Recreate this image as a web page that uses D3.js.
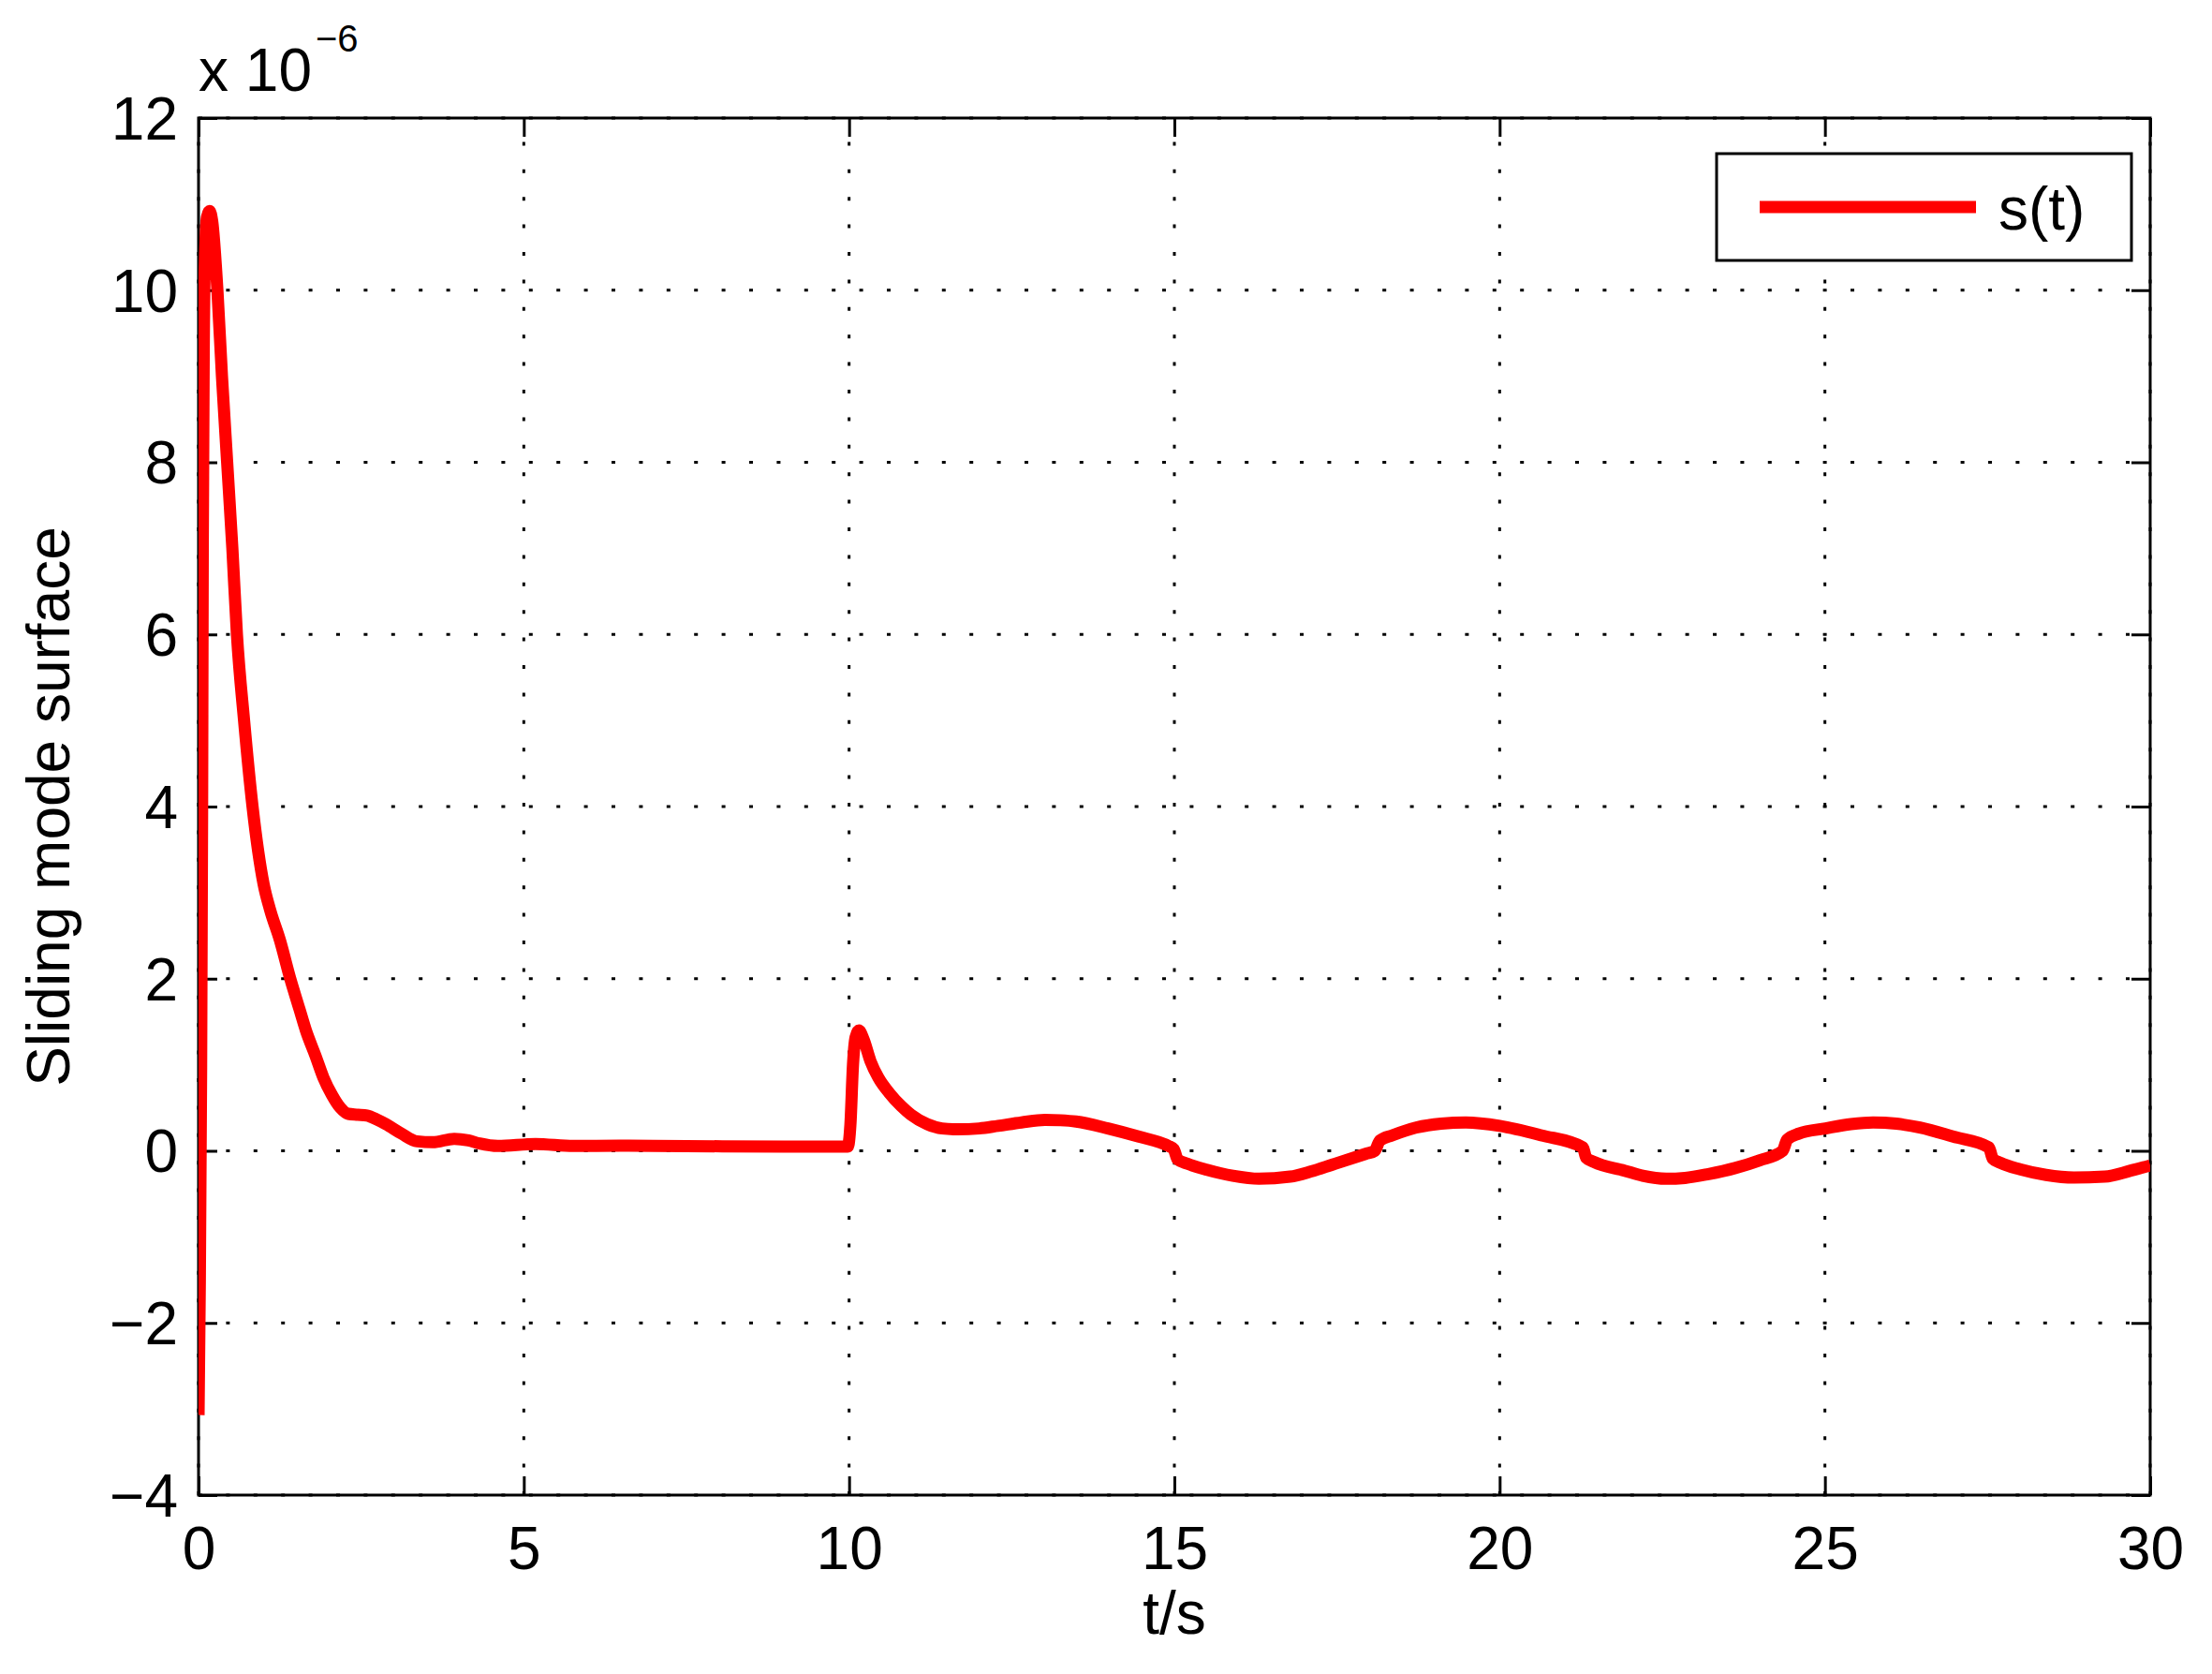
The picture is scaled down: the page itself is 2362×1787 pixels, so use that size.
<!DOCTYPE html>
<html>
<head>
<meta charset="utf-8">
<script src="https://cdn.jsdelivr.net/npm/d3@7"></script>
<style>
  html, body { margin: 0; padding: 0; background: #ffffff; }
  svg { display: block; }
  text { font-family: "Liberation Sans", Arial, sans-serif; fill: #000; }
</style>
</head>
<body>
<script>
// ---- data (s in units of 1e-6) ----
const tValues = [
  0.0, 0.02, 0.04, 0.055, 0.065, 0.08, 0.10, 0.13, 0.17, 0.21, 0.29, 0.36, 0.44, 0.52, 0.59, 0.70, 0.83,
  1.00, 1.10, 1.25, 1.41, 1.55, 1.65, 1.80, 1.92, 2.05, 2.18, 2.30, 2.45, 2.59, 2.75, 2.88, 3.12, 3.36, 3.60,
  3.93, 4.15, 4.32, 4.60, 5.18, 5.76, 6.47, 7.50, 9.00, 9.98,
  10.02, 10.06, 10.10, 10.15, 10.22, 10.33, 10.45, 10.62, 10.80, 10.95, 11.20, 11.43, 11.67, 12.00, 12.29,
  12.65, 13.01, 13.25, 13.49, 13.98, 14.45, 14.91, 14.99, 15.05, 15.20, 15.50, 15.90, 16.30, 16.78, 17.10,
  17.43, 17.94, 18.08, 18.16, 18.35, 18.71, 19.10, 19.48, 20.00, 20.64, 21.28, 21.33, 21.45, 21.92, 22.20,
  22.56, 22.85, 23.21, 23.62, 24.00, 24.35, 24.42, 24.60, 25.01, 25.40, 25.74, 26.10, 26.46, 26.97, 27.52,
  27.58, 27.70, 28.00, 28.40, 28.83, 29.30, 29.70, 30.00
];
const sValues = [
  -3.07, -1.5, 1.0, 4.0, 7.0, 9.3, 10.4, 10.85, 10.92, 10.8, 10.0, 9.0, 8.0, 7.0, 6.0, 5.0, 4.0,
  3.1, 2.8, 2.45, 2.0, 1.65, 1.40, 1.10, 0.85, 0.65, 0.50, 0.43, 0.42, 0.41, 0.36, 0.31, 0.20, 0.11, 0.10,
  0.14, 0.12, 0.085, 0.056, 0.08, 0.056, 0.06, 0.055, 0.05, 0.05,
  0.30, 1.0, 1.32, 1.40, 1.30, 1.04, 0.85, 0.67, 0.52, 0.42, 0.31, 0.26, 0.25, 0.26, 0.29,
  0.33, 0.36, 0.355, 0.34, 0.26, 0.165, 0.056, 0.02, -0.10, -0.15, -0.22, -0.29, -0.325, -0.30, -0.24,
  -0.16, -0.035, 0.0, 0.12, 0.18, 0.27, 0.315, 0.33, 0.29, 0.18, 0.04, -0.08, -0.13, -0.23, -0.29,
  -0.325, -0.315, -0.27, -0.20, -0.11, 0.0, 0.13, 0.20, 0.26, 0.31, 0.33, 0.315, 0.27, 0.165, 0.04,
  -0.09, -0.14, -0.215, -0.28, -0.31, -0.30, -0.23, -0.17
];
const xTicks = [0, 5, 10, 15, 20, 25, 30];
const yTicks = [-4, -2, 0, 2, 4, 6, 8, 10, 12];
const xDomain = [0, 30];
const yDomain = [-4, 12];
const seriesName = "s(t)";
const xLabel = "t/s";
const yLabel = "Sliding mode surface";
const exponentText = "x 10";
const exponentSup = "\u22126";

// ---- layout ----
const W = 2362, H = 1787;
const L = 212, R = 2296, T = 126, B = 1596;

const svg = d3.select("body").append("svg").attr("width", W).attr("height", H);
svg.append("rect").attr("width", W).attr("height", H).attr("fill", "#fff");

const x = d3.scaleLinear().domain(xDomain).range([L, R]);
const y = d3.scaleLinear().domain(yDomain).range([B, T]);

const fmt = v => (v < 0 ? "\u2212" + Math.abs(v) : String(v));

// grid (dotted)
const grid = svg.append("g").attr("stroke", "#000").attr("stroke-width", 3)
  .attr("stroke-dasharray", "4 25.4").attr("fill", "none");
yTicks.forEach(v => {
  grid.append("line").attr("x1", L).attr("x2", R).attr("y1", y(v)).attr("y2", y(v));
});
xTicks.forEach(v => {
  grid.append("line").attr("x1", x(v)).attr("x2", x(v)).attr("y1", B).attr("y2", T);
});

// axes via d3 axis generators (ticks inward)
const axStyle = g => {
  g.select(".domain").remove();
  g.selectAll(".tick line").attr("stroke", "#000").attr("stroke-width", 3);
};
svg.append("g").attr("transform", `translate(0,${B})`)
  .call(d3.axisBottom(x).tickValues(xTicks).tickSizeInner(-20).tickSizeOuter(0).tickFormat(fmt).tickPadding(32))
  .call(axStyle)
  .selectAll("text").attr("font-size", 64).attr("font-family", "Liberation Sans, Arial, sans-serif")
  .attr("dy", null).attr("y", 79).attr("dominant-baseline", "alphabetic");
svg.append("g").attr("transform", `translate(0,${T})`)
  .call(d3.axisTop(x).tickValues(xTicks).tickSizeInner(-20).tickSizeOuter(0).tickFormat(""))
  .call(axStyle);
svg.append("g").attr("transform", `translate(${L},0)`)
  .call(d3.axisLeft(y).tickValues(yTicks).tickSizeInner(-20).tickSizeOuter(0).tickFormat(fmt))
  .call(axStyle)
  .selectAll("text").attr("font-size", 64).attr("font-family", "Liberation Sans, Arial, sans-serif")
  .attr("x", -22).attr("dy", "0.35em");
svg.append("g").attr("transform", `translate(${R},0)`)
  .call(d3.axisRight(y).tickValues(yTicks).tickSizeInner(-20).tickSizeOuter(0).tickFormat(""))
  .call(axStyle);

// frame
svg.append("rect").attr("x", L).attr("y", T).attr("width", R - L).attr("height", B - T)
  .attr("fill", "none").attr("stroke", "#000").attr("stroke-width", 3);

// clip
svg.append("clipPath").attr("id", "plotclip").append("rect")
  .attr("x", L).attr("y", T).attr("width", R - L).attr("height", B - T);

// series
const data = tValues.map((t, i) => ({ t, s: sValues[i] }));
const line = d3.line().x(d => x(d.t)).y(d => y(d.s)).curve(d3.curveMonotoneX);
svg.append("path").datum(data).attr("d", line)
  .attr("clip-path", "url(#plotclip)")
  .attr("fill", "none").attr("stroke", "#ff0000").attr("stroke-width", 13)
  .attr("stroke-linejoin", "round").attr("stroke-linecap", "butt");

// exponent label
const ex = svg.append("text").attr("x", 212).attr("y", 97).attr("font-size", 64);
ex.append("tspan").text(exponentText);
svg.append("text").attr("x", 337).attr("y", 55).attr("font-size", 40).text(exponentSup);

// axis labels
svg.append("text").attr("x", (L + R) / 2).attr("y", 1744).attr("text-anchor", "middle")
  .attr("font-size", 64).text(xLabel);
svg.append("text").attr("transform", `translate(74,${(T + B) / 2}) rotate(-90)`)
  .attr("text-anchor", "middle").attr("font-size", 64).text(yLabel);

// legend
const lg = svg.append("g");
lg.append("rect").attr("x", 1833).attr("y", 164).attr("width", 443).attr("height", 114)
  .attr("fill", "#fff").attr("stroke", "#000").attr("stroke-width", 3);
lg.append("line").attr("x1", 1879).attr("x2", 2110).attr("y1", 221).attr("y2", 221)
  .attr("stroke", "#ff0000").attr("stroke-width", 13);
lg.append("text").attr("x", 2134).attr("y", 245).attr("font-size", 64).text(seriesName);
</script>
</body>
</html>
